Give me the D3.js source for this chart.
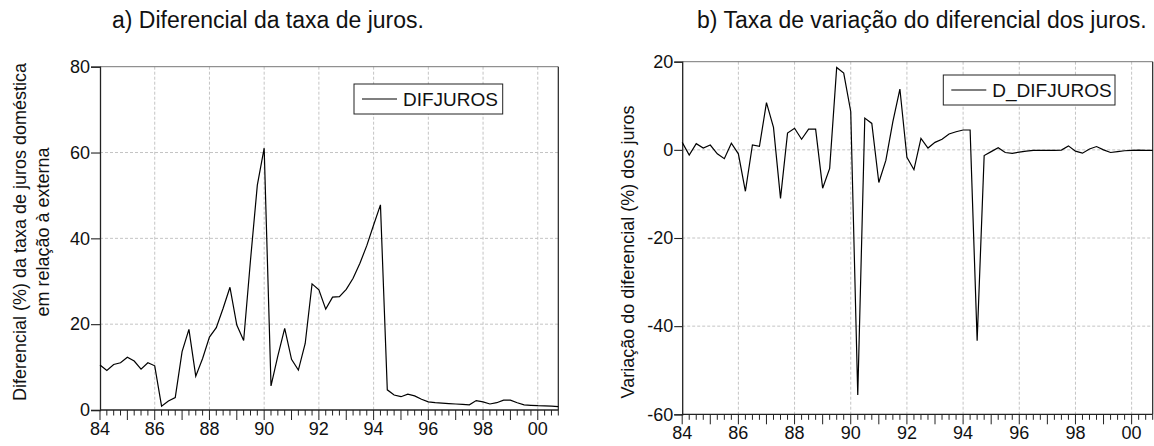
<!DOCTYPE html>
<html>
<head>
<meta charset="utf-8">
<script src="https://cdn.jsdelivr.net/npm/d3@7"></script>
<style>
  html, body { margin: 0; padding: 0; background: #fff; }
  svg { display: block; font-family: "Liberation Sans", Arial, sans-serif; }
</style>
</head>
<body>
<svg id="chart" width="1154" height="446"></svg>
<script>
// Quarterly observations, 1984Q1 .. 2000Q4
const firstYear = 1984;
const nQuarters = 68;

// Interest-rate differential (%), domestic vs. external
const difjuros = [
  10.5, 9.2, 10.6, 11.0, 12.3, 11.4, 9.5, 11.0,
  10.3, 0.9, 2.1, 2.9, 13.6, 18.8, 7.9, 12.0,
  17.0, 19.2, 23.7, 28.6, 19.8, 16.2, 34.9, 52.4,
  61.0, 5.6, 12.6, 19.0, 11.8, 9.3, 15.5, 29.4,
  28.0, 23.5, 26.3, 26.4, 28.1, 30.7, 34.2, 38.3,
  43.1, 47.8, 4.7, 3.5, 3.1, 3.7, 3.3, 2.5,
  1.9, 1.7, 1.6, 1.5, 1.4, 1.3, 1.2, 2.2,
  1.9, 1.4, 1.7, 2.3, 2.3, 1.7, 1.2, 1.1,
  1.0, 0.95, 0.9, 0.8
];

// Quarter-on-quarter change of the differential
const dDifjuros = [
  1.7, -1.2, 1.4, 0.4, 1.1, -0.9, -2.0, 1.5,
  -0.9, -9.4, 1.1, 0.8, 10.7, 5.1, -11.0, 3.8,
  4.9, 2.4, 4.7, 4.7, -8.7, -4.2, 18.7, 17.4,
  8.7, -55.6, 7.2, 6.0, -7.4, -2.4, 6.4, 13.8,
  -1.7, -4.5, 2.6, 0.4, 1.7, 2.4, 3.6, 4.1,
  4.5, 4.5, -43.3, -1.3, -0.4, 0.5, -0.6, -0.8,
  -0.5, -0.3, -0.1, -0.1, -0.1, -0.1, -0.05, 0.9,
  -0.3, -0.75, 0.2, 0.75, 0.0, -0.6, -0.4, -0.2,
  -0.1, -0.05, -0.1, -0.1
];

// Axis ticks
const xTickYears = [1984, 1986, 1988, 1990, 1992, 1994, 1996, 1998, 2000];
const xTickLabels = ["84", "86", "88", "90", "92", "94", "96", "98", "00"];
const yTicksA = [0, 20, 40, 60, 80];
const yTicksB = [-60, -40, -20, 0, 20];

const titleA = "a) Diferencial da taxa de juros.";
const titleB = "b) Taxa de variação do diferencial dos juros.";
const yLabelA = ["Diferencial (%) da taxa de juros doméstica", "em relação à externa"];
const yLabelB = ["Variação do diferencial (%) dos juros"];

const periods = d3.range(nQuarters).map(i => firstYear + i / 4);
const lastPeriod = periods[periods.length - 1];

// plain hyphen for negative tick labels
const tickFmt = v => String(v);

const svg = d3.select("#chart");

function panel(cfg) {
  const x = d3.scaleLinear().domain([firstYear, lastPeriod]).range([cfg.left, cfg.right]);
  const y = d3.scaleLinear().domain(cfg.yDomain).range([cfg.bottom, cfg.top]);
  const g = svg.append("g");

  // dashed grid
  g.append("g").selectAll("line").data(xTickYears.filter(v => v > firstYear)).join("line")
    .attr("x1", d => x(d)).attr("x2", d => x(d))
    .attr("y1", cfg.top).attr("y2", cfg.bottom)
    .attr("stroke", "#c4c4c4").attr("stroke-width", 1).attr("stroke-dasharray", "3,2");
  g.append("g").selectAll("line").data(cfg.yTicks.filter(v => v > cfg.yDomain[0] && v < cfg.yDomain[1])).join("line")
    .attr("x1", cfg.left).attr("x2", cfg.right)
    .attr("y1", d => y(d)).attr("y2", d => y(d))
    .attr("stroke", "#c4c4c4").attr("stroke-width", 1).attr("stroke-dasharray", "3,2");

  // frame: top and right
  g.append("line").attr("x1", cfg.left).attr("x2", cfg.right).attr("y1", cfg.top).attr("y2", cfg.top)
    .attr("stroke", "#777").attr("stroke-width", 1);
  g.append("line").attr("x1", cfg.right).attr("x2", cfg.right).attr("y1", cfg.top).attr("y2", cfg.bottom)
    .attr("stroke", "#222").attr("stroke-width", 1.2);

  // y axis
  const yAxis = d3.axisLeft(y).tickValues(cfg.yTicks).tickFormat(tickFmt)
    .tickSize(cfg.yTickSize).tickPadding(1);
  const ya = g.append("g").attr("transform", `translate(${cfg.left},0)`).call(yAxis);
  ya.select(".domain").attr("stroke", "#222").attr("stroke-width", 1.3);
  ya.selectAll(".tick line").attr("stroke", "#222").attr("stroke-width", 1.1);
  ya.selectAll("text").attr("font-size", 18).attr("fill", "#111")
    .attr("font-family", "Liberation Sans, Arial, sans-serif");

  // x axis: quarter ticks, longer yearly ticks
  const xb = g.append("g").attr("transform", `translate(0,${cfg.bottom})`);
  xb.append("line").attr("x1", cfg.left).attr("x2", cfg.right).attr("y1", 0).attr("y2", 0)
    .attr("stroke", "#222").attr("stroke-width", 1.3);
  xb.selectAll("line.q").data(periods).join("line").attr("class", "q")
    .attr("x1", d => x(d)).attr("x2", d => x(d))
    .attr("y1", 0).attr("y2", d => (Math.abs(d - Math.round(d)) < 1e-6 ? 10 : 5.5))
    .attr("stroke", "#222").attr("stroke-width", 1);
  xb.selectAll("text").data(xTickYears).join("text")
    .attr("x", d => x(d)).attr("y", 24.5)
    .attr("text-anchor", "middle").attr("font-size", 18).attr("fill", "#111")
    .text((d, i) => xTickLabels[i]);

  // series line
  const line = d3.line().x((d, i) => x(periods[i])).y(d => y(d));
  g.append("path").datum(cfg.values)
    .attr("d", line).attr("fill", "none").attr("stroke", "#000")
    .attr("stroke-width", 1.2).attr("stroke-linejoin", "miter");

  // legend
  const lg = g.append("g");
  lg.append("rect").attr("x", cfg.legend.x).attr("y", cfg.legend.y)
    .attr("width", cfg.legend.w).attr("height", cfg.legend.h)
    .attr("fill", "#fff").attr("stroke", "#222").attr("stroke-width", 1);
  const ly = cfg.legend.y + cfg.legend.h / 2;
  lg.append("line").attr("x1", cfg.legend.x + 8).attr("x2", cfg.legend.x + 43)
    .attr("y1", ly).attr("y2", ly).attr("stroke", "#000").attr("stroke-width", 1.2);
  lg.append("text").attr("x", cfg.legend.x + 49).attr("y", ly + 7)
    .attr("font-size", 19).attr("fill", "#111").text(cfg.legend.label);

  // y-axis title
  const cy = cfg.labelCy;
  cfg.yLabel.forEach((t, i) => {
    g.append("text")
      .attr("transform", `translate(${cfg.labelX[i]},${cy}) rotate(-90)`)
      .attr("text-anchor", "middle").attr("font-size", 18).attr("fill", "#111")
      .text(t);
  });

  // panel title
  g.append("text").attr("x", cfg.titleX).attr("y", 28)
    .attr("font-size", 23).attr("fill", "#111").text(cfg.title);
}

panel({
  left: 100, right: 558.3, top: 66.7, bottom: 410,
  yDomain: [0, 80], yTicks: yTicksA, yTickSize: 9,
  values: difjuros,
  legend: { x: 354, y: 84, w: 148.7, h: 30, label: "DIFJUROS" },
  yLabel: yLabelA, labelX: [26, 49], labelCy: 232,
  title: titleA, titleX: 112
});

panel({
  left: 682.2, right: 1152.7, top: 61.7, bottom: 414.3,
  yDomain: [-60, 20], yTicks: yTicksB, yTickSize: 8,
  values: dDifjuros,
  legend: { x: 943.3, y: 75, w: 171.7, h: 30, label: "D_DIFJUROS" },
  yLabel: yLabelB, labelX: [634], labelCy: 252,
  title: titleB, titleX: 697
});
</script>
</body>
</html>
